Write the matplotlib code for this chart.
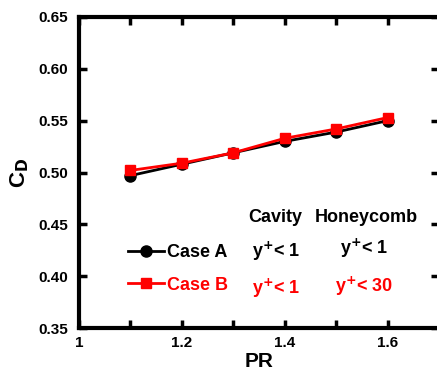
import numpy as np
import matplotlib.pyplot as plt
from matplotlib.lines import Line2D
from matplotlib.ticker import MultipleLocator, FormatStrFormatter

plt.rcParams['font.family'] = ['Liberation Sans', 'DejaVu Sans']
plt.rcParams['font.weight'] = 'bold'

# Drag coefficient vs pressure ratio
pr = [1.1, 1.2, 1.3, 1.4, 1.5, 1.6]
cd_case_a = [0.497, 0.508, 0.519, 0.530, 0.539, 0.550]
cd_case_b = [0.502, 0.509, 0.519, 0.533, 0.542, 0.553]

fig = plt.figure(figsize=(4.37, 3.72), dpi=100)
ax = fig.add_axes([79 / 437, 44 / 372, 360 / 437, 311 / 372])

ax.plot(pr, cd_case_a, color='black', lw=2, marker='o', ms=8, zorder=3)
ax.plot(pr, cd_case_b, color='red', lw=2, marker='s', ms=7.5, zorder=4)

ax.set_xlim(1.0, 1.7)
ax.set_ylim(0.35, 0.65)
ax.xaxis.set_major_locator(MultipleLocator(0.2))
ax.xaxis.set_minor_locator(MultipleLocator(0.1))
ax.xaxis.set_major_formatter(FormatStrFormatter('%g'))
ax.yaxis.set_major_locator(MultipleLocator(0.05))
ax.yaxis.set_major_formatter(FormatStrFormatter('%.2f'))

for s in ax.spines.values():
    s.set_linewidth(3)
ax.tick_params(which='both', direction='in', top=True, right=True,
               length=6, width=2.5, labelsize=11)
ax.tick_params(axis='x', pad=6)
ax.tick_params(axis='y', pad=8)

ax.set_xlabel('PR', fontsize=15, fontweight='bold', labelpad=1)
ax.set_ylabel('C$_\\mathbf{D}$', fontsize=16, fontweight='bold', labelpad=5)

# legend rows with y+ notes
handles = [Line2D([], [], color='black', lw=2, marker='o', ms=8),
           Line2D([], [], color='red', lw=2, marker='s', ms=7.5)]
leg = ax.legend(handles, ['Case A', 'Case B'], frameon=False, fontsize=13,
                loc='center left', bbox_to_anchor=(0.09, 0.19),
                handlelength=2.0, handletextpad=0.2, labelspacing=0.85)
leg.get_texts()[1].set_color('red')

tkw = dict(transform=ax.transAxes, ha='center', va='center', fontsize=13, fontweight='bold')
ax.text(0.544, 0.354, 'Cavity', **tkw)
ax.text(0.797, 0.354, 'Honeycomb', **tkw)
ax.text(0.547, 0.248, 'y$^{+}$< 1', **tkw)
ax.text(0.792, 0.255, 'y$^{+}$< 1', **tkw)
ax.text(0.547, 0.127, 'y$^{+}$< 1', color='red', **tkw)
ax.text(0.792, 0.135, 'y$^{+}$< 30', color='red', **tkw)

fig.savefig('out.png', dpi=100)
